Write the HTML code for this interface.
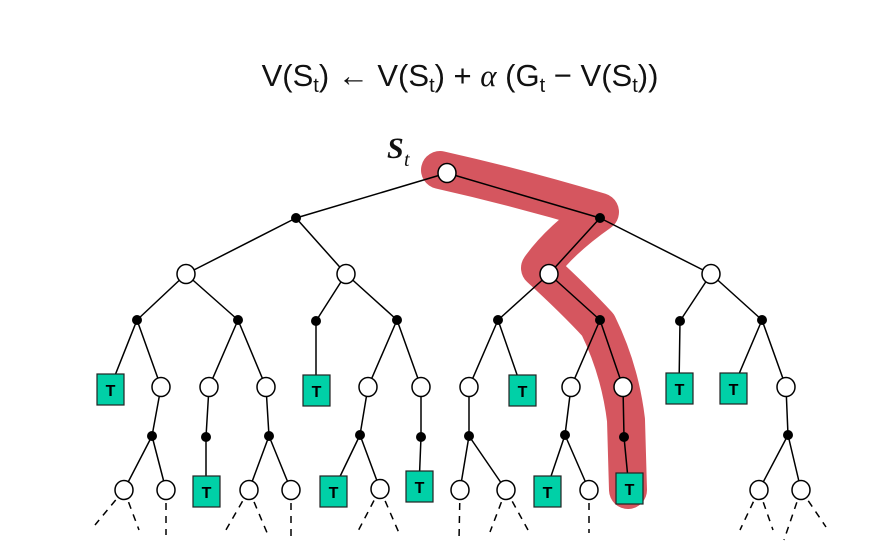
<!DOCTYPE html>
<html><head><meta charset="utf-8"><style>
html,body{margin:0;padding:0;background:#fff;}
svg{display:block}
</style></head><body>
<svg width="892" height="541" viewBox="0 0 892 541" xmlns="http://www.w3.org/2000/svg">
<text x="460" y="86" text-anchor="middle" font-family="Liberation Sans, sans-serif" font-size="31" fill="#111">V(S<tspan font-size="20" dy="6">t</tspan><tspan dy="-6">) ← V(S</tspan><tspan font-size="20" dy="6">t</tspan><tspan dy="-6">) + </tspan><tspan font-family="Liberation Serif, serif" font-style="italic">α</tspan><tspan> (G</tspan><tspan font-size="20" dy="6">t</tspan><tspan dy="-6"> − V(S</tspan><tspan font-size="20" dy="6">t</tspan><tspan dy="-6">))</tspan></text>
<text x="387" y="158" font-family="Liberation Serif, serif" font-style="italic" font-weight="bold" font-size="30" fill="#111">S</text>
<text x="404" y="166" font-family="Liberation Serif, serif" font-style="italic" font-size="20" fill="#111">t</text>
<path d="M440,170 Q520,188 600,212 Q560,240 540,268 Q575,300 598,325 Q620,370 626,420 L628,490" fill="none" stroke="#d5565f" stroke-width="38" stroke-linecap="round" stroke-linejoin="round"/>
<g stroke="#000" stroke-width="1.5" fill="none">
<path d="M447,173L296,218M447,173L600,218M296,218L186,274M296,218L346,274M600,218L549,274M600,218L711,274
M186,274L137,320M186,274L238,320M346,274L316,321M346,274L397,320M549,274L498,320M549,274L600,320M711,274L680,321M711,274L762,320
M137,320L110,388M137,320L161,387M238,320L209,387M238,320L266,387M316,321L316,389M397,320L368,387M397,320L421,387
M498,320L469,387M498,320L522,389M600,320L571,387M600,320L623,387M680,321L679,388M762,320L733,388M762,320L786,387
M161,387L152,436M209,387L206,437M266,387L269,436M368,387L360,435M421,387L421,437M469,387L469,436M571,387L565,435M623,387L624,437M786,387L788,435
M152,436L124,490M152,436L166,490M206,437L206,491M269,436L249,490M269,436L291,490M360,435L333,491M360,435L380,489M421,437L419,487
M469,436L460,490M469,436L506,490M565,435L546,491M565,435L589,490M624,437L629,489M788,435L759,490M788,435L801,490"/>
<path stroke-dasharray="7,6" d="M124,490L95,525M124,490L139,530M166,490L166,535M249,490L223,535M249,490L268,535M291,490L291,540M380,489L356,535M380,489L399,533M460,490L459,540M506,490L490,532M506,490L528,530M589,490L589,533M759,490L740,530M759,490L773,530M801,490L784,540M801,490L826,527"/>
</g>
<g fill="#000">
<circle cx="296" cy="218" r="5"/><circle cx="600" cy="218" r="5"/>
<circle cx="137" cy="320" r="5"/><circle cx="238" cy="320" r="5"/><circle cx="316" cy="321" r="5"/><circle cx="397" cy="320" r="5"/><circle cx="498" cy="320" r="5"/><circle cx="600" cy="320" r="5"/><circle cx="680" cy="321" r="5"/><circle cx="762" cy="320" r="5"/>
<circle cx="152" cy="436" r="5"/><circle cx="206" cy="437" r="5"/><circle cx="269" cy="436" r="5"/><circle cx="360" cy="435" r="5"/><circle cx="421" cy="437" r="5"/><circle cx="469" cy="436" r="5"/><circle cx="565" cy="435" r="5"/><circle cx="624" cy="437" r="5"/><circle cx="788" cy="435" r="5"/>
</g>
<g fill="#fff" stroke="#000" stroke-width="1.5">
<ellipse cx="447" cy="173" rx="9" ry="9.5"/>
<ellipse cx="186" cy="274" rx="9" ry="9.5"/><ellipse cx="346" cy="274" rx="9" ry="9.5"/><ellipse cx="549" cy="274" rx="9" ry="9.5"/><ellipse cx="711" cy="274" rx="9" ry="9.5"/>
<ellipse cx="161" cy="387" rx="9" ry="9.5"/><ellipse cx="209" cy="387" rx="9" ry="9.5"/><ellipse cx="266" cy="387" rx="9" ry="9.5"/><ellipse cx="368" cy="387" rx="9" ry="9.5"/><ellipse cx="421" cy="387" rx="9" ry="9.5"/><ellipse cx="469" cy="387" rx="9" ry="9.5"/><ellipse cx="571" cy="387" rx="9" ry="9.5"/><ellipse cx="623" cy="387" rx="9" ry="9.5"/><ellipse cx="786" cy="387" rx="9" ry="9.5"/>
<ellipse cx="124" cy="490" rx="9" ry="9.5"/><ellipse cx="166" cy="490" rx="9" ry="9.5"/><ellipse cx="249" cy="490" rx="9" ry="9.5"/><ellipse cx="291" cy="490" rx="9" ry="9.5"/><ellipse cx="380" cy="489" rx="9" ry="9.5"/><ellipse cx="460" cy="490" rx="9" ry="9.5"/><ellipse cx="506" cy="490" rx="9" ry="9.5"/><ellipse cx="589" cy="490" rx="9" ry="9.5"/><ellipse cx="759" cy="490" rx="9" ry="9.5"/><ellipse cx="801" cy="490" rx="9" ry="9.5"/>
</g>
<g fill="#00d0a7" stroke="#222" stroke-width="1.2">
<rect x="97" y="374" width="27" height="31"/><rect x="303" y="375" width="27" height="31"/><rect x="509" y="375" width="27" height="31"/><rect x="666" y="373" width="27" height="31"/><rect x="720" y="373" width="27" height="31"/>
<rect x="193" y="476" width="27" height="31"/><rect x="320" y="476" width="27" height="31"/><rect x="406" y="471" width="27" height="31"/><rect x="534" y="476" width="27" height="31"/><rect x="616" y="473" width="27" height="31"/>
</g>
<g font-family="Liberation Sans, sans-serif" font-weight="bold" font-size="16" fill="#000" text-anchor="middle">
<text x="110.5" y="396">T</text><text x="316.5" y="397">T</text><text x="522.5" y="397">T</text><text x="679.5" y="395">T</text><text x="733.5" y="395">T</text>
<text x="206.5" y="498">T</text><text x="333.5" y="498">T</text><text x="419.5" y="493">T</text><text x="547.5" y="498">T</text><text x="629.5" y="495">T</text>
</g>
</svg>
</body></html>
